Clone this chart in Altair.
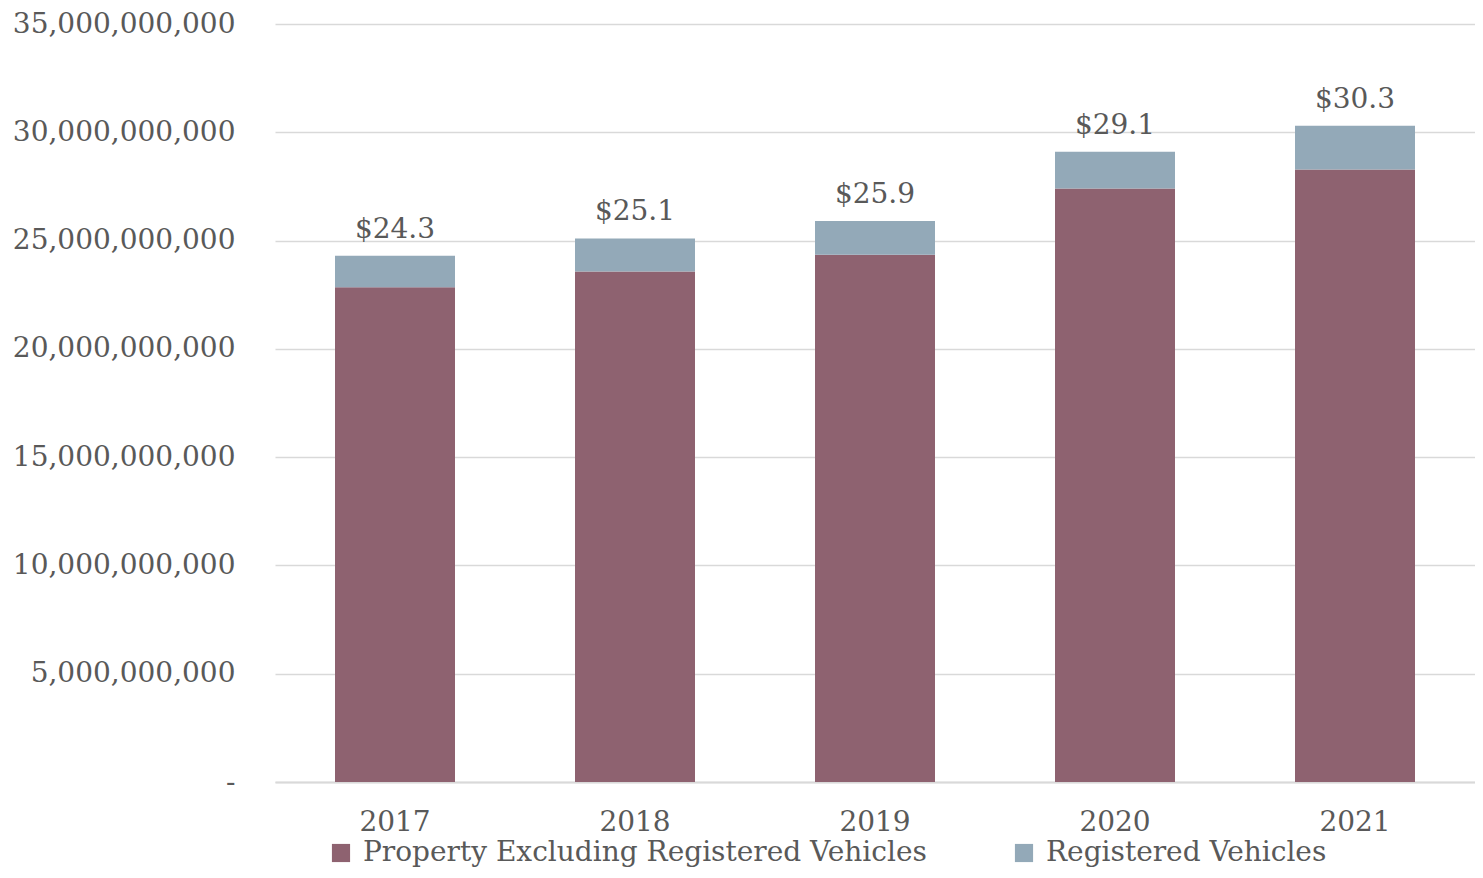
import altair as alt
import pandas as pd

years = ["2017", "2018", "2019", "2020", "2021"]
property_vals = [22.85e9, 23.57e9, 24.35e9, 27.41e9, 28.28e9]
vehicle_vals = [1.45e9, 1.53e9, 1.55e9, 1.69e9, 2.02e9]
totals = [24.3e9, 25.1e9, 25.9e9, 29.1e9, 30.3e9]
total_labels = ["$24.3", "$25.1", "$25.9", "$29.1", "$30.3"]
series = ["Property Excluding Registered Vehicles", "Registered Vehicles"]
colors = ["#8E6270", "#93A9B8"]

FONT = "DejaVu Serif"
TXT = "#595959"

rows = []
for i, y in enumerate(years):
    rows.append({"year": y, "series": series[0], "value": property_vals[i], "ord": 0})
    rows.append({"year": y, "series": series[1], "value": vehicle_vals[i], "ord": 1})
df = pd.DataFrame(rows)
lab = pd.DataFrame({"year": years, "total": totals, "label": total_labels})

x_axis = alt.Axis(labelAngle=0, labelFontSize=28, labelFont=FONT, labelColor=TXT,
                  ticks=False, domain=True, domainColor="#D9D9D9", domainWidth=2,
                  grid=False, labelPadding=26)
y_axis = alt.Axis(values=[0, 5e9, 10e9, 15e9, 20e9, 25e9, 30e9, 35e9],
                  labelExpr="datum.value == 0 ? '-' : format(datum.value, ',')",
                  labelFontSize=28, labelFont=FONT, labelColor=TXT,
                  labelLimit=400,
                  ticks=False, domain=False, labelPadding=40,
                  gridColor="#D9D9D9", gridWidth=1.5)
x_scale = alt.Scale(paddingInner=0.5, paddingOuter=0.25)
y_scale = alt.Scale(domain=[0, 35e9], nice=False)

bars = alt.Chart(df).mark_bar().encode(
    x=alt.X("year:N", title=None, scale=x_scale, axis=x_axis),
    y=alt.Y("value:Q", stack="zero", title=None, scale=y_scale, axis=y_axis),
    color=alt.Color("series:N", sort=series,
                    scale=alt.Scale(domain=series, range=colors),
                    legend=alt.Legend(title=None, orient="none", direction="horizontal",
                                      legendX=52, legendY=815,
                                      symbolType="square", symbolSize=330,
                                      symbolStrokeWidth=0,
                                      labelFontSize=28, labelFont=FONT, labelColor=TXT,
                                      labelOffset=8, columnPadding=83,
                                      labelLimit=800)),
    order=alt.Order("ord:Q", sort="ascending"),
)

labels = alt.Chart(lab).mark_text(baseline="bottom", dy=-12, font=FONT, fontSize=28,
                                  color=TXT).encode(
    x=alt.X("year:N", title=None, scale=x_scale, axis=x_axis),
    y=alt.Y("total:Q", title=None, scale=y_scale, axis=y_axis),
    text="label:N",
)

chart = alt.layer(bars, labels).properties(
    width=1200, height=758,
    background="white",
    autosize=alt.AutoSizeParams(type="none"),
    padding={"left": 267, "top": 16, "right": 0, "bottom": 88},
).configure_view(strokeWidth=0, stroke="transparent")

chart.save("out.html", embed_options={"renderer": "svg", "actions": False})
